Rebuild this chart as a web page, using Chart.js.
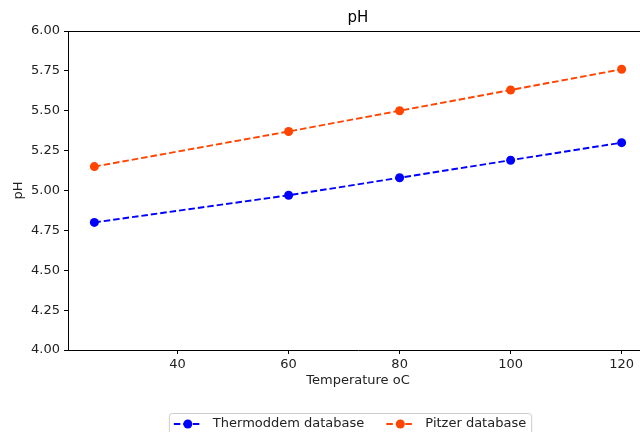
<!DOCTYPE html>
<html>
<head>
<meta charset="utf-8">
<script src="https://cdn.jsdelivr.net/npm/chart.js@4"></script>
<style>
  html, body { margin: 0; padding: 0; background: #fff; overflow: hidden; width: 640px; height: 432px; }
  canvas { display: block; }
</style>
</head>
<body>
<canvas id="phChart" width="660" height="432" style="width:660px;height:432px"></canvas>
<script>
let temperatures = [25, 60, 80, 100, 120];
let thermoddemPH = [4.80, 4.97, 5.08, 5.19, 5.30];
let pitzerPH = [5.15, 5.37, 5.50, 5.63, 5.76];
let xTicks = [40, 60, 80, 100, 120];
let seriesNames = ["Thermoddem database", "Pitzer database"];
let seriesColors = ["#0000ff", "#ff4500"];

let font = "'DejaVu Sans', sans-serif";
let ctx = document.getElementById("phChart").getContext("2d");

function toPoints(values) {
    return temperatures.map((t, i) => ({ x: t, y: values[i] }));
}

// top spine + matplotlib style legend box under the axis
let extras = {
    id: "extras",
    afterDraw(chart) {
        let c = chart.ctx;
        let a = chart.chartArea;
        c.save();
        c.strokeStyle = "#000";
        c.lineWidth = 1;
        c.beginPath();
        c.moveTo(a.left, a.top + 0.5);
        c.lineTo(a.right, a.top + 0.5);
        c.stroke();

        c.font = "13px " + font;
        let sample = 28, gap = 11, colGap = 22, pad = 5;
        let w1 = c.measureText(seriesNames[0]).width;
        let w2 = c.measureText(seriesNames[1]).width;
        let total = pad + sample + gap + w1 + colGap + sample + gap + w2 + pad;
        let cx = (a.left + a.right) / 2 - 8;
        let left = cx - total / 2;
        let top = 413;
        c.fillStyle = "rgba(255,255,255,0.8)";
        c.strokeStyle = "#cccccc";
        c.beginPath();
        c.roundRect(left + 0.5, top + 0.5, total, 28, 3);
        c.fill();
        c.stroke();

        let x = left + pad;
        let y = top + 11;
        chart.data.datasets.forEach((ds, i) => {
            c.strokeStyle = ds.borderColor;
            c.lineWidth = 1.9;
            c.setLineDash([6.5, 3]);
            c.beginPath();
            c.moveTo(x, y);
            c.lineTo(x + sample, y);
            c.stroke();
            c.setLineDash([]);
            c.fillStyle = ds.borderColor;
            c.beginPath();
            c.arc(x + sample / 2, y, 4.5, 0, Math.PI * 2);
            c.fill();
            c.fillStyle = "#222";
            c.textBaseline = "middle";
            c.fillText(ds.label, x + sample + gap, y);
            x += sample + gap + (i === 0 ? w1 : w2) + colGap;
        });
        c.restore();
    }
};

let phChart = new Chart(ctx, {
    type: "line",
    data: {
        datasets: [
            {
                label: seriesNames[0],
                data: toPoints(thermoddemPH),
                borderColor: seriesColors[0],
                backgroundColor: seriesColors[0],
                borderWidth: 1.9,
                borderDash: [6.5, 3],
                pointRadius: 4.5,
                pointHoverRadius: 4.5,
                pointBorderWidth: 0,
                fill: false,
                tension: 0,
            },
            {
                label: seriesNames[1],
                data: toPoints(pitzerPH),
                borderColor: seriesColors[1],
                backgroundColor: seriesColors[1],
                borderWidth: 1.9,
                borderDash: [6.5, 3],
                pointRadius: 4.5,
                pointHoverRadius: 4.5,
                pointBorderWidth: 0,
                fill: false,
                tension: 0,
            },
        ]
    },
    options: {
        responsive: false,
        animation: false,
        layout: { padding: { left: 0, right: 12, top: 0, bottom: 42 } },
        plugins: {
            legend: { display: false },
            tooltip: { enabled: false },
            title: {
                display: true,
                text: "pH",
                fullSize: false,
                color: "#000",
                font: { family: font, size: 15, weight: "normal", lineHeight: 1.2 },
                padding: { top: 9, bottom: 4 },
            },
        },
        scales: {
            x: {
                type: "linear",
                min: 20.25,
                max: 124.75,
                afterBuildTicks: (scale) => { scale.ticks = xTicks.map(v => ({ value: v })); },
                afterFit: (scale) => { scale.height = 40; },
                grid: { drawOnChartArea: false, drawTicks: true, tickLength: 4, color: "#000" },
                border: { display: true, color: "#000", width: 1 },
                ticks: { color: "#222", padding: 3, maxRotation: 0, font: { family: font, size: 13 } },
                title: {
                    display: true,
                    text: "Temperature oC",
                    color: "#222",
                    font: { family: font, size: 13, lineHeight: 1.2 },
                    padding: { top: 0, bottom: 2 },
                },
            },
            y: {
                min: 4,
                max: 6,
                afterFit: (scale) => { scale.width = 68; },
                grid: { drawOnChartArea: false, drawTicks: true, tickLength: 4, color: "#000" },
                border: { display: true, color: "#000", width: 1 },
                ticks: {
                    stepSize: 0.25,
                    color: "#222",
                    padding: 4,
                    font: { family: font, size: 13 },
                    callback: (v) => v.toFixed(2),
                },
                title: {
                    display: true,
                    text: "pH",
                    color: "#222",
                    font: { family: font, size: 13, lineHeight: 1.2 },
                    padding: { top: 10.5, bottom: 0 },
                },
            },
        },
    },
    plugins: [extras],
});
</script>
</body>
</html>
